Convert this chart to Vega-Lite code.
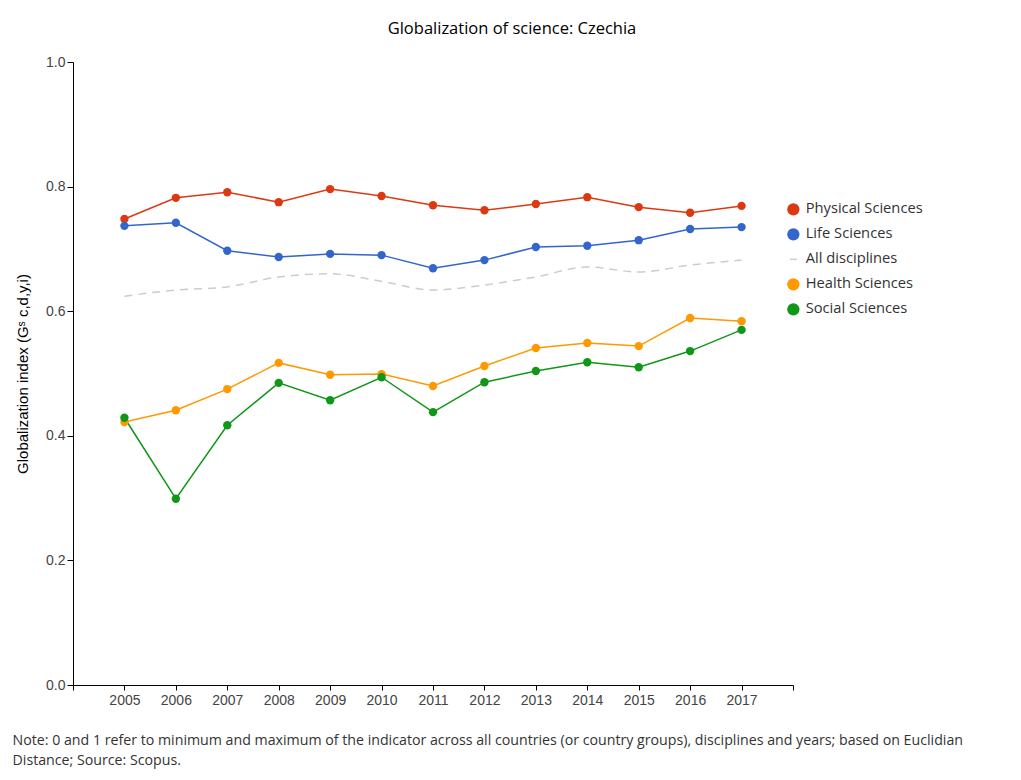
{
  "$schema": "https://vega.github.io/schema/vega-lite/v6.json",
  "width": 720,
  "height": 623,
  "autosize": {"type": "none"},
  "padding": {"left": 73, "top": 62, "right": 228, "bottom": 95},
  "background": "white",
  "title": {
    "text": "Globalization of science: Czechia",
    "anchor": "middle",
    "frame": "group",
    "dx": 79,
    "offset": 18,
    "font": "Open Sans",
    "fontSize": 16.5,
    "fontWeight": "normal",
    "color": "#000000"
  },
  "config": {
    "view": {"stroke": null},
    "axis": {"grid": false, "domainColor": "#000000", "tickColor": "#000000", "labelFont": "Liberation Sans", "labelFontSize": 14, "labelColor": "#444444", "titleFont": "Liberation Sans", "titleFontSize": 15, "titleColor": "#000000", "titleFontWeight": "normal"}
  },
  "data": {
    "values": [
      {"year": 2005, "series": "Physical Sciences", "value": 0.748},
      {"year": 2006, "series": "Physical Sciences", "value": 0.782},
      {"year": 2007, "series": "Physical Sciences", "value": 0.791},
      {"year": 2008, "series": "Physical Sciences", "value": 0.775},
      {"year": 2009, "series": "Physical Sciences", "value": 0.796},
      {"year": 2010, "series": "Physical Sciences", "value": 0.785},
      {"year": 2011, "series": "Physical Sciences", "value": 0.770},
      {"year": 2012, "series": "Physical Sciences", "value": 0.762},
      {"year": 2013, "series": "Physical Sciences", "value": 0.772},
      {"year": 2014, "series": "Physical Sciences", "value": 0.783},
      {"year": 2015, "series": "Physical Sciences", "value": 0.767},
      {"year": 2016, "series": "Physical Sciences", "value": 0.758},
      {"year": 2017, "series": "Physical Sciences", "value": 0.769},
      {"year": 2005, "series": "Life Sciences", "value": 0.737},
      {"year": 2006, "series": "Life Sciences", "value": 0.742},
      {"year": 2007, "series": "Life Sciences", "value": 0.697},
      {"year": 2008, "series": "Life Sciences", "value": 0.687},
      {"year": 2009, "series": "Life Sciences", "value": 0.692},
      {"year": 2010, "series": "Life Sciences", "value": 0.690},
      {"year": 2011, "series": "Life Sciences", "value": 0.669},
      {"year": 2012, "series": "Life Sciences", "value": 0.682},
      {"year": 2013, "series": "Life Sciences", "value": 0.703},
      {"year": 2014, "series": "Life Sciences", "value": 0.705},
      {"year": 2015, "series": "Life Sciences", "value": 0.714},
      {"year": 2016, "series": "Life Sciences", "value": 0.732},
      {"year": 2017, "series": "Life Sciences", "value": 0.735},
      {"year": 2005, "series": "All disciplines", "value": 0.624},
      {"year": 2006, "series": "All disciplines", "value": 0.634},
      {"year": 2007, "series": "All disciplines", "value": 0.639},
      {"year": 2008, "series": "All disciplines", "value": 0.655},
      {"year": 2009, "series": "All disciplines", "value": 0.660},
      {"year": 2010, "series": "All disciplines", "value": 0.648},
      {"year": 2011, "series": "All disciplines", "value": 0.634},
      {"year": 2012, "series": "All disciplines", "value": 0.642},
      {"year": 2013, "series": "All disciplines", "value": 0.655},
      {"year": 2014, "series": "All disciplines", "value": 0.671},
      {"year": 2015, "series": "All disciplines", "value": 0.663},
      {"year": 2016, "series": "All disciplines", "value": 0.674},
      {"year": 2017, "series": "All disciplines", "value": 0.682},
      {"year": 2005, "series": "Health Sciences", "value": 0.422},
      {"year": 2006, "series": "Health Sciences", "value": 0.441},
      {"year": 2007, "series": "Health Sciences", "value": 0.475},
      {"year": 2008, "series": "Health Sciences", "value": 0.517},
      {"year": 2009, "series": "Health Sciences", "value": 0.498},
      {"year": 2010, "series": "Health Sciences", "value": 0.499},
      {"year": 2011, "series": "Health Sciences", "value": 0.480},
      {"year": 2012, "series": "Health Sciences", "value": 0.512},
      {"year": 2013, "series": "Health Sciences", "value": 0.541},
      {"year": 2014, "series": "Health Sciences", "value": 0.549},
      {"year": 2015, "series": "Health Sciences", "value": 0.544},
      {"year": 2016, "series": "Health Sciences", "value": 0.589},
      {"year": 2017, "series": "Health Sciences", "value": 0.584},
      {"year": 2005, "series": "Social Sciences", "value": 0.429},
      {"year": 2006, "series": "Social Sciences", "value": 0.299},
      {"year": 2007, "series": "Social Sciences", "value": 0.417},
      {"year": 2008, "series": "Social Sciences", "value": 0.485},
      {"year": 2009, "series": "Social Sciences", "value": 0.457},
      {"year": 2010, "series": "Social Sciences", "value": 0.494},
      {"year": 2011, "series": "Social Sciences", "value": 0.438},
      {"year": 2012, "series": "Social Sciences", "value": 0.486},
      {"year": 2013, "series": "Social Sciences", "value": 0.504},
      {"year": 2014, "series": "Social Sciences", "value": 0.518},
      {"year": 2015, "series": "Social Sciences", "value": 0.510},
      {"year": 2016, "series": "Social Sciences", "value": 0.536},
      {"year": 2017, "series": "Social Sciences", "value": 0.570}
    ]
  },
  "encoding": {
    "x": {
      "field": "year",
      "type": "quantitative",
      "scale": {"domain": [2004, 2018], "nice": false, "zero": false},
      "axis": {
        "values": [2004, 2005, 2006, 2007, 2008, 2009, 2010, 2011, 2012, 2013, 2014, 2015, 2016, 2017, 2018],
        "labelExpr": "datum.value == 2004 || datum.value == 2018 ? '' : format(datum.value, 'd')",
        "tickSize": 5,
        "labelPadding": 3,
        "title": ["Note: 0 and 1 refer to minimum and maximum of the indicator across all countries (or country groups), disciplines and years; based on Euclidian", "Distance; Source: Scopus."],
        "titleAnchor": "start",
        "titleAlign": "left",
        "titleX": -61,
        "titleY": 48,
        "titleFont": "Open Sans",
        "titleFontSize": 14.2,
        "titleColor": "#333333",
        "titleLineHeight": 20
      }
    },
    "y": {
      "field": "value",
      "type": "quantitative",
      "scale": {"domain": [0, 1], "nice": false},
      "axis": {
        "values": [0, 0.2, 0.4, 0.6, 0.8, 1.0],
        "format": ".1f",
        "tickSize": 6,
        "labelPadding": 2,
        "title": "Globalization index  (Gˢ c,d,y,i)",
        "titlePadding": 15
      }
    },
    "color": {
      "field": "series",
      "type": "nominal",
      "scale": {
        "domain": ["Physical Sciences", "Life Sciences", "All disciplines", "Health Sciences", "Social Sciences"],
        "range": ["#dc3912", "#3366cc", "#cccccc", "#ff9900", "#109618"]
      },
      "legend": {
        "title": null,
        "orient": "none",
        "legendX": 713,
        "legendY": 140,
        "padding": 0,
        "labelFont": "Open Sans",
        "labelFontSize": 14.7,
        "labelColor": "#333333",
        "labelOffset": 5,
        "rowPadding": 9,
        "symbolSize": 150,
        "encode": {
          "symbols": {
            "update": {
              "shape": {"signal": "datum.value === 'All disciplines' ? 'stroke' : 'circle'"},
              "size": {"signal": "datum.value === 'All disciplines' ? 50 : 150"},
              "fill": {"signal": "scale('color', datum.value)"},
              "stroke": {"signal": "scale('color', datum.value)"},
              "strokeWidth": {"signal": "datum.value === 'All disciplines' ? 1.5 : 0"},
              "opacity": {"value": 1},
              "fillOpacity": {"value": 1},
              "strokeDash": {"value": []}
            }
          }
        }
      }
    }
  },
  "layer": [
    {
      "transform": [{"filter": "datum.series !== 'All disciplines'"}],
      "mark": {"type": "line", "strokeWidth": 1.5},
      "encoding": {}
    },
    {
      "transform": [{"filter": "datum.series === 'All disciplines'"}],
      "mark": {"type": "line", "strokeWidth": 1.5, "strokeDash": [8, 6], "interpolate": "monotone"},
      "encoding": {}
    },
    {
      "transform": [{"filter": "datum.series !== 'All disciplines'"}],
      "mark": {"type": "point", "filled": true, "size": 70, "opacity": 1},
      "encoding": {}
    }
  ]
}
